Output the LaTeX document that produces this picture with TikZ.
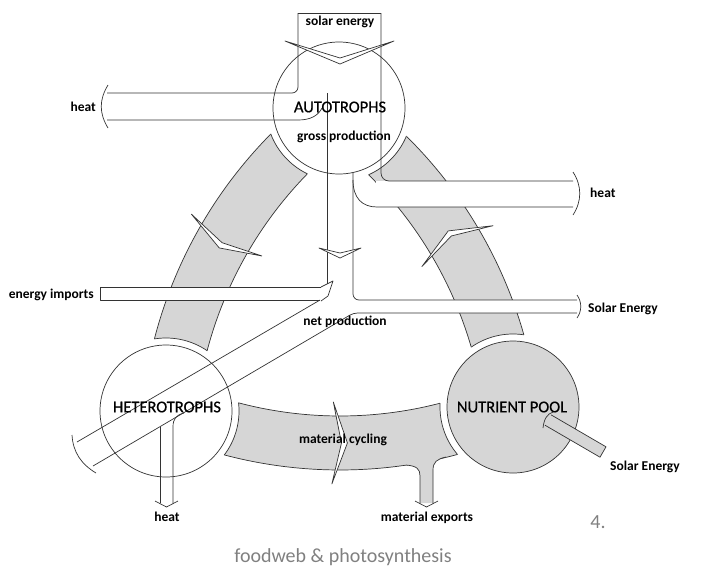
\documentclass[tikz,border=0pt]{standalone}
\usepackage{fontspec}
\setmainfont{Carlito}
\newfontfamily\medfont[FakeBold=0.6]{Carlito}
\usetikzlibrary{calc}
\newcommand{\bandpath}[3]{($(#1)+(#2:398)$) arc[start angle=#2, end angle=#3, radius=398] -- ($(#1)+(#3:452)$) arc[start angle=#3, end angle=#2, radius=452] -- cycle}
\newcommand{\chev}[3]{\filldraw[ln, fill=white] ($(#1)+({#2+#3}:466)$) -- ($(#1)+(#2:425)$) -- ($(#1)+({#2+#3}:384)$) -- ($(#1)+({#2+0.8}:425)$) -- cycle;}
\begin{document}
\begin{tikzpicture}[x=1pt,y=-1pt,
  ln/.style={draw=black!80, line width=0.7pt, line join=round},
  band/.style={ln, fill=black!16},
  lbl/.style={font=\fontsize{13.5}{15}\selectfont\bfseries, inner sep=0pt, text=black},
  big/.style={font=\medfont\fontsize{16.5}{18}\selectfont, inner sep=0pt, text=black},
  capt/.style={font=\fontsize{20}{22}\selectfont, inner sep=0pt, text=black!50}]
\useasboundingbox (0,0) rectangle (706,574);
\coordinate (A) at (339,108);
\coordinate (H) at (166,411);
\coordinate (N) at (513,407);
\coordinate (L) at (592,452);
\coordinate (R) at (89,458);
\coordinate (B) at (340,18);
% bands
\filldraw[band] \bandpath{L}{185.5}{233.66};
\filldraw[band] \bandpath{R}{-54.46}{-6.86};
\filldraw[band] \bandpath{B}{66.02}{113.88};
% material exports stem
\fill[black!16] (406,465) .. controls (417,466) and (420,469) .. (420,476) -- (420,503) -- (433,503) -- (433,470) .. controls (433,462) and (437,459) .. (446,457) -- (446,450) -- (406,455) -- cycle;
\draw[ln] (406,465) .. controls (417,466) and (420,469) .. (420,476) -- (420,503);
\draw[ln] (433,503) -- (433,470) .. controls (433,462) and (437,459) .. (446,457);
\draw[ln] (415,501) -- (426.5,507) -- (438,501);
% gaps around the nodes
\fill[white] (A) circle[radius=73] (H) circle[radius=73] (N) circle[radius=73];
\begin{scope}\clip \bandpath{L}{185.5}{233.66}; \draw[ln] (A) circle[radius=73] (H) circle[radius=73];\end{scope}
\begin{scope}\clip \bandpath{R}{-54.46}{-6.86}; \draw[ln] (A) circle[radius=73] (N) circle[radius=73];\end{scope}
\begin{scope}\clip \bandpath{B}{66.02}{113.88}; \draw[ln] (H) circle[radius=73] (N) circle[radius=73];\end{scope}
% chevrons in bands
\chev{L}{208.7}{2.0}
\chev{R}{-32.3}{2.4}
\chev{B}{89.0}{2.0}
% white fills of flows crossing bands
\fill[white] (100,287) rectangle (321,300);
\fill[white] (376,181) rectangle (575,207);
\fill[white] (353,300) rectangle (578,313);
% nodes
\filldraw[ln, fill=white] (A) circle[radius=66];
\filldraw[ln, fill=white] (H) circle[radius=66];
\filldraw[ln, fill=black!16] (N) circle[radius=66];
% solar energy into autotrophs
\draw[ln] (298,13) -- (381,13);
\draw[ln, rounded corners=6] (298,13) -- (298,93) -- (107,93);
\draw[ln, rounded corners=8] (381,13) -- (381,181) -- (573,181);
\filldraw[ln, fill=white] (285,41) -- (340,64) -- (394,41) -- (340,58) -- cycle;
% heat to the left
\draw[ln] (107,120) -- (298,120) .. controls (310,120) and (318,116) .. (322,108);
\draw[ln] (108,85) .. controls (99,100) and (99,113) .. (108,128);
% heat to the right
\draw[ln] (353,180) .. controls (353,198) and (362,207) .. (377,207) -- (573,207);
\draw[ln] (573,172) .. controls (582,186) and (582,201) .. (573,215);
% gross production
\draw[ln] (327,93) -- (327,284);
\draw[ln, rounded corners=6] (353,172) -- (353,300) -- (577,300);
\filldraw[ln, fill=white] (319,248) -- (340,258) -- (361,248) -- (340,253) -- cycle;
% solar energy out / net production
\draw[ln, rounded corners=4] (93,466) -- (353.5,313) -- (577,313);
\draw[ln] (577,295) .. controls (582,302) and (582,311) .. (577,318);
% energy imports
\draw[ln] (321,287) -- (100,287) -- (100,300) -- (320,300);
\draw[ln] (321,287) -- (333,281) -- (328,296) -- (321,301);
\draw[ln] (320,300) -- (77,442);
\draw[ln] (72,435) .. controls (73,452) and (81,464) .. (96,473);
% heterotroph heat
\draw[ln] (160,427) -- (160,503);
\draw[ln] (184,413) .. controls (176,415) and (173,419) .. (173,427) -- (173,503);
\draw[ln] (155,501) -- (166.5,507) -- (178,501);
% solar energy into nutrient pool
\fill[black!16] (551,414.8) -- (606,446.8) -- (600,457.2) -- (545,425.2) -- cycle;
\draw[ln] (551,414.8) -- (606,446.8) -- (600,457.2) -- (545,425.2);
\draw[ln] (553,412) .. controls (547,414) and (544,419) .. (543,428);
% labels
\node[lbl] (tSolar) at (340,22) {solar energy};
\node[big] (tA) at (340,107) {AUTOTROPHS};
\node[lbl] (tGross) at (344,137) {gross production};
\node[lbl, anchor=east] (tHeatL) at (96,107) {heat};
\node[lbl, anchor=west] (tHeatR) at (590,193) {heat};
\node[lbl, anchor=west] (tSolR) at (588,309) {Solar Energy};
\node[lbl, anchor=east] (tImp) at (94,295) {energy imports};
\node[lbl] (tNet) at (345,322) {net production};
\node[big] (tH) at (167,407) {HETEROTROPHS};
\node[big] (tN) at (512,407) {NUTRIENT POOL};
\node[lbl] (tCyc) at (343,440) {material cycling};
\node[lbl] (tSolN) at (645,467) {Solar Energy};
\node[lbl] (tHeatH) at (167,517) {heat};
\node[lbl] (tExp) at (427,518) {material exports};
\node[capt] (tNum) at (598,522) {4.};
\node[capt] (tCap) at (343,557) {foodweb \& photosynthesis};
\end{tikzpicture}
\end{document}
